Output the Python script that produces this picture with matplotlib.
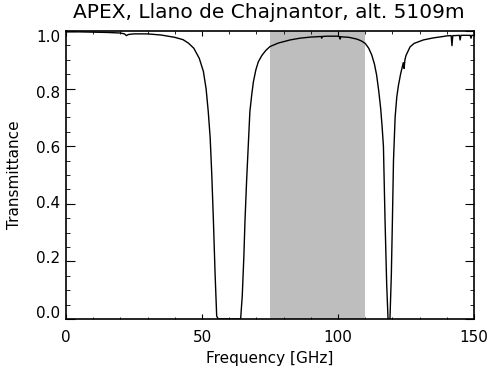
import matplotlib
matplotlib.use("Agg")
import matplotlib.pyplot as plt
from matplotlib.ticker import MultipleLocator, NullFormatter
from matplotlib.transforms import ScaledTranslation

freq_ghz = [0, 5, 10, 15, 20, 21.5, 22.2, 23, 25, 30, 35, 40, 43, 45, 47, 49,
            50.5, 51.5, 52.3, 53, 53.6, 54.2, 54.8, 55.4, 56, 60, 64.2, 64.8,
            65.4, 65.8, 66.4, 67.0, 67.6, 68.3, 68.9, 69.8, 70.7, 72, 73.5, 75,
            78, 82.4, 86, 90, 92.2, 93.8, 94, 94.2, 96, 100, 100.6, 100.8, 101,
            104, 106.9, 108.5, 110, 111.3, 112.4, 113.4, 114.2, 115, 115.7,
            116.2, 116.7, 117.3, 117.9, 118.4, 119.1, 119.6, 120.0, 120.4, 121,
            121.6, 122.2, 123, 124, 124.3, 124.6, 125, 126.5, 128, 131.4, 135,
            138, 140, 141.6, 141.9, 142.2, 143, 144.6, 144.9, 145.2, 147,
            148.6, 148.9, 149.2, 150]
transmittance = [0.997, 0.997, 0.996, 0.995, 0.993, 0.99, 0.984, 0.988, 0.99,
                 0.99, 0.986, 0.978, 0.97, 0.958, 0.94, 0.905, 0.86, 0.80,
                 0.72, 0.63, 0.50, 0.34, 0.16, 0.01, 0.0, 0.0, 0.0, 0.08,
                 0.22, 0.34, 0.48, 0.60, 0.72, 0.78, 0.824, 0.865, 0.893,
                 0.915, 0.933, 0.946, 0.958, 0.969, 0.975, 0.979, 0.98, 0.981,
                 0.975, 0.981, 0.982, 0.982, 0.98, 0.972, 0.98, 0.978, 0.972,
                 0.966, 0.957, 0.94, 0.917, 0.885, 0.847, 0.79, 0.73, 0.67,
                 0.60, 0.34, 0.12, 0.0, 0.0, 0.15, 0.34, 0.55, 0.70, 0.77,
                 0.81, 0.85, 0.89, 0.87, 0.90, 0.915, 0.945, 0.957, 0.969,
                 0.976, 0.980, 0.983, 0.984, 0.949, 0.984, 0.984, 0.985, 0.969,
                 0.985, 0.985, 0.985, 0.975, 0.985, 0.985]

band_ghz = [75, 110]
ytick_vals = [0.0, 0.2, 0.4, 0.6, 0.8, 1.0]
ytick_labels = ["0.0", "0.2", "0.4", "0.6", "0.8", "1.0"]
title = "APEX, Llano de Chajnantor, alt. 5109m"
xlabel = "Frequency [GHz]"
ylabel = "Transmittance"

fig = plt.figure(figsize=(4.9, 3.69), dpi=100)
ax = fig.add_axes([66/490, 1-319/369, (474-66)/490, (319-31)/369])

ax.axvspan(band_ghz[0], band_ghz[1], color="#bebebe", lw=0, zorder=1)
ax.plot(freq_ghz, transmittance, color="black", lw=1.0, zorder=2)

ax.set_xlim(0, 150)
ax.set_ylim(0, 1.0)
ax.xaxis.set_major_locator(MultipleLocator(50))
ax.xaxis.set_minor_locator(MultipleLocator(10))
ax.set_yticks(ytick_vals)
ax.yaxis.set_minor_locator(MultipleLocator(0.05))
ax.yaxis.set_major_formatter(NullFormatter())

ax.tick_params(axis="both", which="both", direction="in", top=True, right=True,
               labelsize=11, colors="black")
ax.tick_params(axis="x", which="major", length=3.6, pad=8)
ax.tick_params(axis="x", which="minor", length=1.8)
ax.tick_params(axis="y", which="major", length=6.5)
ax.tick_params(axis="y", which="minor", length=3.2)
for s in ax.spines.values():
    s.set_linewidth(1.2)
    s.set_zorder(3)

# IDL-style y labels: slightly shifted relative to their ticks
for v, lab in zip(ytick_vals, ytick_labels):
    dy_px = -5.5 + 12.5 * v
    tr = ax.get_yaxis_transform() + ScaledTranslation(-6/100, -dy_px/100, fig.dpi_scale_trans)
    ax.text(0, v, lab, transform=tr, ha="right", va="center", fontsize=11)

fig.text(269/490, 1-12/369, title, ha="center", va="center", fontsize=14.5)
ax.set_xlabel(xlabel, fontsize=11, labelpad=4)
ax.set_ylabel(ylabel, fontsize=11)
ax.yaxis.set_label_coords(-(66-22)/408, 0.5)

fig.savefig("out.png", dpi=100)
